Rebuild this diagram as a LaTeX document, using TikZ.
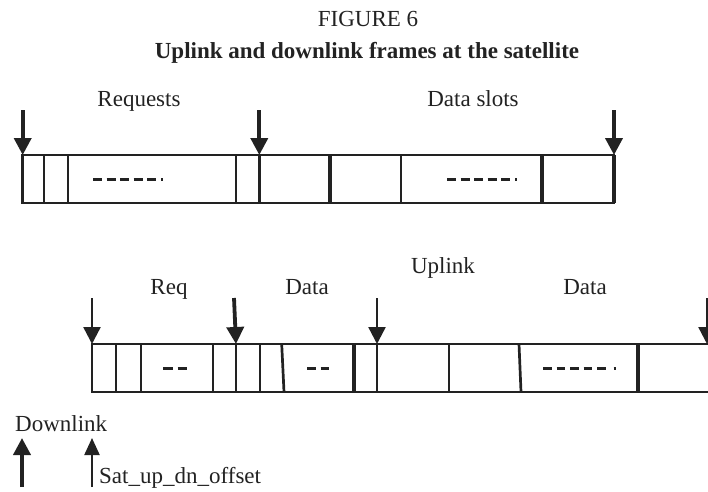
\documentclass[tikz,border=0pt]{standalone}
\usepackage{fontspec}
\setmainfont{Liberation Serif}
\usetikzlibrary{arrows.meta}
\definecolor{ink}{RGB}{34,34,34}
\tikzset{
  lbl/.style={inner sep=0pt, anchor=base, text=ink, font=\fontsize{23}{27}\selectfont},
  frameline/.style={draw=ink, line width=2.7pt},
  thickdiv/.style={draw=ink, line width=3.6pt},
  dots/.style={draw=ink, line width=3pt},
  bigarrow/.style={draw=ink, line width=3.8pt, -{Triangle[length=17pt,width=17pt]}},
  thinarrow/.style={draw=ink, line width=2.4pt, -{Triangle[length=17pt,width=17pt]}},
  smallarrow/.style={draw=ink, line width=2.2pt, -{Triangle[length=17pt,width=15pt]}},
}
\begin{document}
\begin{tikzpicture}[x=1pt,y=-1pt]
\useasboundingbox (0,0) rectangle (708,491);
\clip (0,0) rectangle (708,491);

% Titles
\node[lbl] (fig) at (368,26.5) {FIGURE 6};
\node[lbl, font=\fontsize{23}{27}\selectfont\bfseries] (title) at (367,58) {Uplink and downlink frames at the satellite};

% ---------- Frame at the satellite (upper) ----------
\coordinate (u0) at (22.7,155);
\coordinate (u1) at (614,203);
\draw[frameline] (u0) rectangle (u1);
\foreach \x in {44,68,236,259.3,401} \draw[frameline] (\x,155) -- (\x,203);
\foreach \x in {330,542,614} \draw[thickdiv] (\x,155) -- (\x,203);

% dash runs inside the slots
\draw[dots, dash pattern=on 9pt off 4.5pt on 9pt off 4.5pt on 9pt off 4.5pt on 9pt off 4.5pt on 9pt off 5pt on 2pt off 20pt]
  (93,179) -- (163,179);
\draw[dots, dash pattern=on 9pt off 4.5pt on 9pt off 4.5pt on 9pt off 4.5pt on 9pt off 4.5pt on 9pt off 5pt on 2pt off 20pt]
  (447,179) -- (520,179);

\node[lbl] (req) at (139,106) {Requests};
\node[lbl] (slots) at (473,106) {Data slots};

\coordinate (ua1) at (22.7,110);  \coordinate (ub1) at (22.7,155);
\coordinate (ua2) at (259.3,110); \coordinate (ub2) at (259.3,155);
\coordinate (ua3) at (614,110);   \coordinate (ub3) at (614,155);
\draw[bigarrow] (ua1) -- (ub1);
\draw[bigarrow] (ua2) -- (ub2);
\draw[bigarrow] (ua3) -- (ub3);

% ---------- Frames (lower) ----------
\coordinate (l0) at (92,344);
\coordinate (l1) at (720,392);
\draw[frameline] (720,344) -- (l0) -- (92,392) -- (l1);
\foreach \x in {116,141,213,236,260,377,449} \draw[frameline] (\x,344) -- (\x,392);
\draw[frameline] (281.7,344) -- (284,392);
\draw[frameline] (519,344) -- (521,392);
\foreach \x in {354,638} \draw[thickdiv] (\x,344) -- (\x,392);

\draw[dots, dash pattern=on 9.5pt off 5pt on 9.5pt off 20pt] (163,368) -- (187,368);
\draw[dots, dash pattern=on 8.5pt off 5pt on 9pt off 20pt] (307,368) -- (329,368);
\draw[dots, dash pattern=on 8.5pt off 5pt on 8.5pt off 5pt on 8.5pt off 5pt on 8.5pt off 5pt on 8.5pt off 8pt on 3pt off 20pt]
  (543,368) -- (616,368);

\node[lbl] (lreq) at (169,294) {Req};
\node[lbl] (ldata1) at (307,294) {Data};
\node[lbl] (lup) at (443,273) {Uplink};
\node[lbl] (ldata2) at (585,294) {Data};

\coordinate (la1) at (92,298);  \coordinate (lb1) at (92,344);
\coordinate (la2) at (234,298); \coordinate (lb2) at (236,344);
\coordinate (la3) at (377,298); \coordinate (lb3) at (377,344);
\coordinate (la4) at (707,298); \coordinate (lb4) at (707,344);
\draw[thinarrow] (la1) -- (lb1);
\draw[bigarrow] (la2) -- (lb2);
\draw[thinarrow] (la3) -- (lb3);
\draw[thinarrow] (la4) -- (lb4);

% ---------- Legend arrows ----------
\node[lbl, anchor=base west] (dn) at (15,431) {Downlink};
\coordinate (da) at (22,487); \coordinate (db) at (22,438);
\draw[bigarrow] (da) -- (db);
\coordinate (oa) at (92,487); \coordinate (ob) at (92,438);
\draw[smallarrow] (oa) -- (ob);
\node[lbl, anchor=base west] (off) at (99,483) {Sat\_up\_dn\_offset};
\end{tikzpicture}
\end{document}
